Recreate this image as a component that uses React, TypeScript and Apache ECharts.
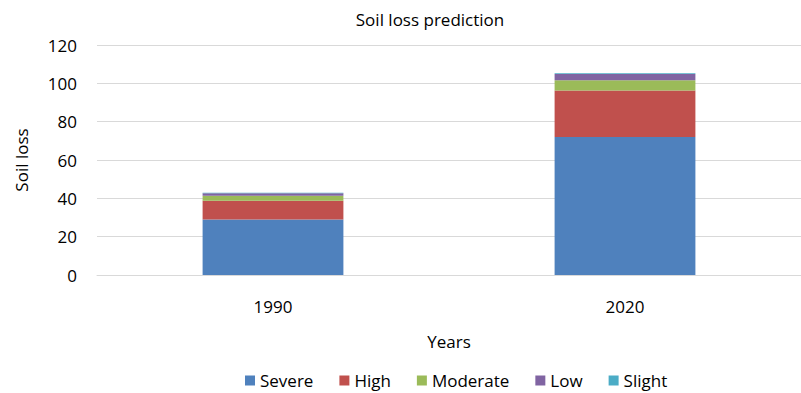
import React, { useEffect, useRef } from "react";
import * as echarts from "echarts";

const categories = ["1990", "2020"];
const severe = [29, 72];
const high = [9.7, 24.2];
const moderate = [2.6, 5.4];
const low = [1.4, 3.3];
const slight = [0.2, 0.3];

const seriesNames = ["Severe", "High", "Moderate", "Low", "Slight"];
const seriesData = [severe, high, moderate, low, slight];
const colors = ["#4F81BD", "#C0504D", "#9BBB59", "#8064A2", "#4BACC6"];

const FONT = "'Open Sans', 'Liberation Sans', sans-serif";

export default function App() {
  const ref = useRef<HTMLDivElement>(null);
  useEffect(() => {
    if (!ref.current) return;
    const chart = echarts.init(ref.current, null, { renderer: "svg" });
    chart.setOption({
      animation: false,
      title: {
        text: "Soil loss prediction",
        left: 425,
        top: 6,
        textAlign: "center",
        textStyle: { fontFamily: FONT, fontSize: 17, fontWeight: "normal", color: "#000" },
      },
      grid: { left: 97, right: 0, top: 45, bottom: 118, containLabel: false },
      legend: {
        data: seriesNames,
        bottom: -1,
        left: 240,
        itemWidth: 10,
        itemHeight: 10,
        itemGap: 26,
        icon: "rect",
        textStyle: { fontFamily: FONT, fontSize: 17, color: "#000" },
      },
      xAxis: {
        type: "category",
        data: categories,
        name: "Years",
        nameLocation: "middle",
        nameGap: 58,
        nameTextStyle: { fontFamily: FONT, fontSize: 17, color: "#000" },
        axisLine: { lineStyle: { color: "#D9D9D9" } },
        axisTick: { show: false },
        axisLabel: { fontFamily: FONT, fontSize: 17, color: "#000", margin: 23 },
      },
      yAxis: {
        type: "value",
        min: 0,
        max: 120,
        interval: 20,
        name: "Soil loss",
        nameLocation: "middle",
        nameGap: 67,
        nameTextStyle: { fontFamily: FONT, fontSize: 17, color: "#000" },
        axisLine: { show: false },
        axisTick: { show: false },
        axisLabel: { fontFamily: FONT, fontSize: 17, color: "#000", margin: 20 },
        splitLine: { lineStyle: { color: "#D9D9D9", width: 1 } },
      },
      series: seriesNames.map((name, i) => ({
        name,
        type: "bar",
        stack: "total",
        data: seriesData[i],
        barWidth: "40%",
        itemStyle: { color: colors[i] },
      })),
    });
    return () => chart.dispose();
  }, []);
  return <div ref={ref} style={{ width: 801, height: 393, position: "absolute", left: 0, top: 0 }} />;
}
